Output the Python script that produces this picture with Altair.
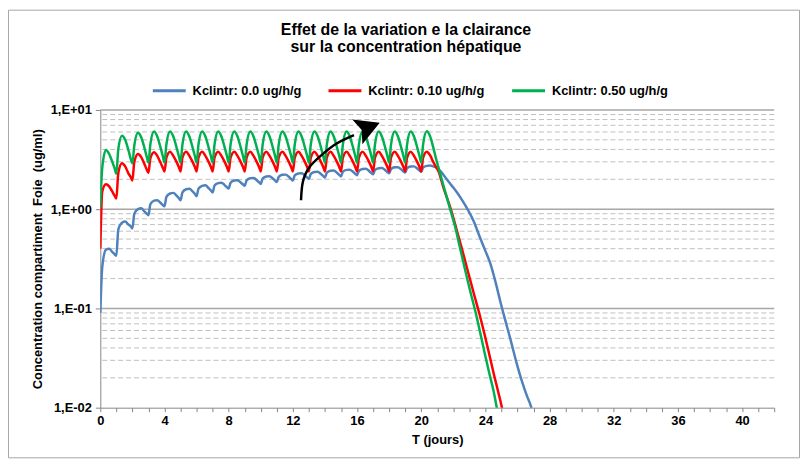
import altair as alt
import pandas as pd

# ---------------- data ----------------
series_names = ["Kclintr: 0.0 ug/h/g", "Kclintr: 0.10 ug/h/g", "Kclintr: 0.50 ug/h/g"]
series_colors = ["#4F81BD", "#FF0000", "#00B050"]

days = list(range(21))                       # one dose per day, days 0..20
cycle_offsets = [0.0, 0.12, 0.35, 0.55, 0.75, 0.9]   # sample points inside each day

blue_cycles = [
    [0.09, 0.26, 0.39, 0.40, 0.37, 0.35],
    [0.34, 0.62, 0.73, 0.75, 0.70, 0.67],
    [0.64, 0.90, 1.00, 1.02, 0.95, 0.90],
    [0.87, 1.12, 1.22, 1.23, 1.16, 1.10],
    [1.07, 1.33, 1.44, 1.46, 1.37, 1.29],
    [1.23, 1.48, 1.59, 1.61, 1.51, 1.42],
    [1.35, 1.61, 1.72, 1.74, 1.63, 1.54],
    [1.48, 1.73, 1.83, 1.85, 1.75, 1.66],
    [1.62, 1.85, 1.95, 1.96, 1.86, 1.77],
    [1.72, 1.95, 2.05, 2.06, 1.96, 1.86],
    [1.80, 2.04, 2.14, 2.15, 2.04, 1.94],
    [1.88, 2.12, 2.22, 2.23, 2.12, 2.01],
    [1.95, 2.19, 2.29, 2.30, 2.19, 2.08],
    [2.02, 2.27, 2.37, 2.38, 2.26, 2.15],
    [2.08, 2.34, 2.44, 2.45, 2.33, 2.21],
    [2.14, 2.39, 2.49, 2.50, 2.38, 2.26],
    [2.20, 2.44, 2.54, 2.55, 2.43, 2.31],
    [2.25, 2.49, 2.59, 2.60, 2.48, 2.36],
    [2.30, 2.54, 2.64, 2.65, 2.52, 2.40],
    [2.34, 2.59, 2.69, 2.70, 2.57, 2.45],
    [2.38, 2.63, 2.73, 2.75, 2.70, 2.65],
]
blue_tail_t = [21.0, 21.17, 21.45, 21.7, 22.0, 22.2, 22.5, 22.9, 23.3, 23.64, 24.0,
               24.3, 24.65, 24.95, 25.3, 25.62, 25.95, 26.3, 26.6, 26.85, 27.0]
blue_tail_v = [2.58, 2.45, 2.15, 1.9, 1.65, 1.5, 1.27, 0.99, 0.74, 0.53, 0.38,
               0.286, 0.18, 0.114, 0.07, 0.045, 0.028, 0.018, 0.013, 0.0102, 0.008]

red_cycles = [
    [0.40, 1.50, 1.78, 1.70, 1.50, 1.36],
    [1.28, 2.30, 2.90, 2.70, 2.30, 2.10],
    [1.95, 3.00, 3.60, 3.35, 2.85, 2.50],
    [2.33, 3.25, 3.75, 3.45, 2.95, 2.60],
    [2.40, 3.30, 3.80, 3.45, 3.00, 2.65],
    [2.40, 3.30, 3.80, 3.45, 3.00, 2.65],
    [2.40, 3.30, 3.80, 3.45, 3.00, 2.65],
    [2.40, 3.30, 3.80, 3.45, 3.00, 2.65],
    [2.40, 3.30, 3.80, 3.45, 3.00, 2.65],
    [2.40, 3.30, 3.80, 3.45, 3.00, 2.65],
    [2.40, 3.30, 3.80, 3.45, 3.00, 2.65],
    [2.40, 3.30, 3.80, 3.45, 3.00, 2.65],
    [2.40, 3.30, 3.80, 3.45, 3.00, 2.65],
    [2.40, 3.30, 3.80, 3.45, 3.00, 2.65],
    [2.40, 3.30, 3.80, 3.45, 3.00, 2.65],
    [2.40, 3.30, 3.80, 3.45, 3.00, 2.65],
    [2.40, 3.30, 3.80, 3.45, 3.00, 2.65],
    [2.40, 3.30, 3.80, 3.45, 3.00, 2.65],
    [2.40, 3.30, 3.80, 3.45, 3.00, 2.65],
    [2.40, 3.30, 3.80, 3.45, 3.00, 2.65],
    [2.40, 3.30, 3.80, 3.50, 3.00, 2.70],
]
red_tail_t = [21.07, 21.4, 21.83, 22.15, 22.5, 22.87, 23.27, 23.63, 23.97, 24.25,
              24.55, 24.82, 25.02, 25.15]
red_tail_v = [2.42, 1.62, 1.02, 0.67, 0.42, 0.25, 0.143, 0.088, 0.053, 0.034,
              0.021, 0.014, 0.0102, 0.008]

green_cycles = [
    [1.05, 2.60, 3.95, 3.60, 3.00, 2.55],
    [2.28, 4.00, 5.50, 5.00, 3.95, 3.20],
    [2.90, 4.40, 5.90, 5.30, 4.15, 3.35],
    [2.95, 4.50, 6.05, 5.40, 4.20, 3.40],
    [2.95, 4.50, 6.05, 5.40, 4.20, 3.40],
    [2.95, 4.50, 6.05, 5.40, 4.20, 3.40],
    [2.95, 4.50, 6.05, 5.40, 4.20, 3.40],
    [2.95, 4.50, 6.05, 5.40, 4.20, 3.40],
    [2.95, 4.50, 6.05, 5.40, 4.20, 3.40],
    [2.95, 4.50, 6.05, 5.40, 4.20, 3.40],
    [2.95, 4.50, 6.05, 5.40, 4.20, 3.40],
    [2.95, 4.50, 6.05, 5.40, 4.20, 3.40],
    [2.95, 4.50, 6.05, 5.40, 4.20, 3.40],
    [2.95, 4.50, 6.05, 5.40, 4.20, 3.40],
    [2.95, 4.50, 6.05, 5.40, 4.20, 3.40],
    [2.95, 4.50, 6.05, 5.40, 4.20, 3.40],
    [2.95, 4.50, 6.05, 5.40, 4.20, 3.40],
    [2.95, 4.50, 6.05, 5.40, 4.20, 3.40],
    [2.95, 4.50, 6.05, 5.40, 4.20, 3.40],
    [2.95, 4.50, 6.05, 5.40, 4.20, 3.40],
    [2.95, 4.50, 6.10, 5.45, 4.20, 3.35],
]
green_tail_t = [21.07, 21.4, 21.79, 22.1, 22.4, 22.7, 23.03, 23.4, 23.72, 24.0,
                24.28, 24.5, 24.7, 24.82]
green_tail_v = [2.65, 1.7, 1.02, 0.68, 0.42, 0.26, 0.155, 0.09, 0.053, 0.033,
                0.021, 0.015, 0.0102, 0.008]

# annotation arrow (data coordinates)
arrow_t = [12.51, 12.62, 13.03, 13.75, 14.68, 15.81]
arrow_v = [1.23, 1.87, 2.65, 3.47, 4.54, 5.58]
arrowhead_t = [16.64]
arrowhead_v = [6.6]

x_ticks = list(range(0, 43))
y_major = [0.01, 0.1, 1, 10]
y_major_grid = [0.1, 1, 10]
y_minor_grid = [k * m for m in (0.01, 0.1, 1) for k in range(2, 10)]

title_lines = ["Effet de la variation e la clairance", "sur la concentration hépatique"]
x_title = "T (jours)"
y_title = "Concentration compartiment \u00a0Foie \u00a0(ug/ml)"

# ---------------- table ----------------
rows = []
for name, cycles, tt, tv in [
    (series_names[0], blue_cycles, blue_tail_t, blue_tail_v),
    (series_names[1], red_cycles, red_tail_t, red_tail_v),
    (series_names[2], green_cycles, green_tail_t, green_tail_v),
]:
    for d, vals in zip(days, cycles):
        for o, v in zip(cycle_offsets, vals):
            rows.append({"t": d + o, "c": v, "serie": name})
    for t, v in zip(tt, tv):
        rows.append({"t": t, "c": v, "serie": name})
df = pd.DataFrame(rows)

arrow_df = pd.DataFrame({"t": arrow_t, "c": arrow_v})
head_df = pd.DataFrame({"t": arrowhead_t, "c": arrowhead_v})
grid_minor_df = pd.DataFrame({"c": y_minor_grid})
grid_major_df = pd.DataFrame({"c": y_major_grid})
one = pd.DataFrame({"a": [0]})

# ---------------- chart ----------------
FONT = "Liberation Sans"
x_scale = alt.Scale(domain=[0, 42], nice=False, zero=False)
y_scale = alt.Scale(type="log", domain=[0.01, 10], nice=False)

x_axis = alt.Axis(
    values=x_ticks,
    labelExpr="datum.value % 4 == 0 ? format(datum.value, 'd') : ''",
    tickSize=4, tickColor="#868686", domainColor="#868686",
    grid=False, labelFontSize=13, labelFontWeight="bold", labelColor="black",
    labelPadding=3, labelOverlap=False, labelFlush=False,
    title=x_title, titleFontSize=13, titleFontWeight="bold", titleColor="black",
    titleX=339.5, titleY=32, titleBaseline="middle", titleAlign="center",
)
y_axis = alt.Axis(
    values=y_major,
    labelExpr="datum.value >= 10 ? '1,E+01' : datum.value >= 1 ? '1,E+00' : datum.value >= 0.1 ? '1,E-01' : '1,E-02'",
    tickSize=5, tickColor="#868686", domainColor="#868686",
    grid=False, labelFontSize=13, labelFontWeight="bold", labelColor="black",
    labelPadding=4, labelOverlap=False, labelFlush=False,
    title=y_title, titleFontSize=13, titleFontWeight="bold", titleColor="black",
    titleX=-63, titleY=150, titleAngle=270, titleAlign="center", titleBaseline="middle",
)

X = alt.X("t:Q", scale=x_scale, axis=x_axis)
Y = alt.Y("c:Q", scale=y_scale, axis=y_axis)

frame = alt.Chart(one).mark_rect(fillOpacity=0, stroke="#A6A6A6", strokeWidth=1).encode(
    x=alt.value(-92.5), x2=alt.value(704.5), y=alt.value(-100.5), y2=alt.value(350.5)
)

grid_minor = alt.Chart(grid_minor_df).mark_rule(
    color="#BFBFBF", strokeDash=[5, 3], strokeWidth=1
).encode(y=Y)

grid_major = alt.Chart(grid_major_df).mark_rule(
    color="#A6A6A6", strokeWidth=1.5
).encode(y=Y)

lines = alt.Chart(df).mark_line(strokeWidth=2.5, clip=True, interpolate="monotone").encode(
    x=X,
    y=Y,
    color=alt.Color(
        "serie:N",
        scale=alt.Scale(domain=series_names, range=series_colors),
        legend=alt.Legend(
            title=None, orient="none", legendX=51, legendY=-38, direction="horizontal",
            symbolType="stroke", symbolSize=1100, symbolStrokeWidth=3,
            labelFontSize=13, labelFontWeight="bold", labelColor="black",
            labelOffset=5, columnPadding=20, padding=0,
        ),
    ),
)

arrow = alt.Chart(arrow_df).mark_line(color="black", strokeWidth=2.5, interpolate="natural").encode(
    x=X, y=Y,
)

arrowhead = alt.Chart(head_df).mark_point(
    shape="M1,0L-0.8,-1L-0.45,0L-0.8,1Z", filled=True, color="black",
    size=729, angle=338, opacity=1, strokeWidth=0,
).encode(x=X, y=Y)

title1 = alt.Chart(one).mark_text(
    text=title_lines[0], fontSize=16, fontWeight="bold", align="center", baseline="middle", color="black"
).encode(x=alt.value(308), y=alt.value(-81))
title2 = alt.Chart(one).mark_text(
    text=title_lines[1], fontSize=16, fontWeight="bold", align="center", baseline="middle", color="black"
).encode(x=alt.value(308), y=alt.value(-63))

chart = alt.layer(
    frame, grid_minor, grid_major, lines, arrow, arrowhead, title1, title2
).properties(
    width=679, height=300,
    autosize=alt.AutoSizeParams(type="none"),
    padding={"left": 93, "top": 101, "right": 26, "bottom": 52},
).configure(font=FONT).configure_view(strokeWidth=0)

chart.save("out.html", embed_options={"renderer": "svg", "actions": False})
